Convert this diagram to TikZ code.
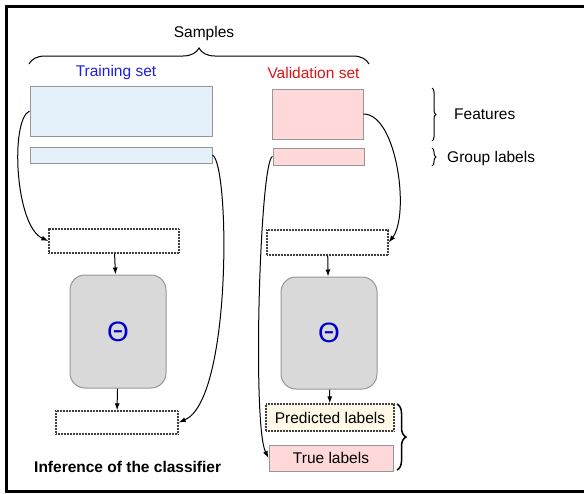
\documentclass[tikz,border=0pt]{standalone}
\usepackage{fontspec}
\setmainfont{Liberation Sans}
\usepackage{xcolor}
\usepackage{tikz}
\usetikzlibrary{positioning,arrows.meta,decorations.pathreplacing}
\definecolor{trainfill}{RGB}{228,241,250}
\definecolor{validfill}{RGB}{255,217,217}
\definecolor{predfill}{RGB}{255,248,230}
\definecolor{clffill}{RGB}{217,217,217}
\definecolor{edgegray}{RGB}{150,150,150}
\definecolor{trainblue}{RGB}{30,30,220}
\definecolor{validred}{RGB}{220,20,20}
\definecolor{thetablue}{RGB}{0,0,200}
\tikzset{
  txt/.style={font=\fontsize{15.5}{18}\selectfont,inner sep=0pt},
  setbox/.style={rectangle,draw=edgegray,line width=1pt,inner sep=0pt},
  dotbox/.style={rectangle,draw=black!75,line width=1.3pt,dash pattern=on 0.8pt off 0.7pt,inner sep=0pt,font=\fontsize{15.5}{18}\selectfont},
  clfbox/.style={rectangle,draw=edgegray,fill=clffill,line width=1pt,rounded corners=15pt,minimum width=96pt,minimum height=112pt,inner sep=0pt,text=thetablue,font=\fontsize{28}{30}\selectfont},
  arrow/.style={-{Latex[length=7pt,width=5pt]},line width=1pt},
  bracket/.style={decorate,line width=1pt}
}
\begin{document}
\begin{tikzpicture}[x=1pt,y=-1pt]
\useasboundingbox (0,0) rectangle (584,493);
\draw[line width=3pt] (584,6.5) -- (6.5,6.5) -- (6.5,491.5) -- (584,491.5);

\node[txt] (samples) at (204,33) {Samples};
\node[txt,text=trainblue] (trset) at (116,72) {Training set};
\node[txt,text=validred] (vset) at (313.5,73) {Validation set};

\node[setbox,fill=trainfill,minimum width=182pt,minimum height=50pt] (trfeat) at (121,111) {};
\node[setbox,fill=trainfill,minimum width=182pt,minimum height=16pt] (trgrp) at (121,155) {};
\node[setbox,fill=validfill,minimum width=91pt,minimum height=50pt] (vfeat) at (317.5,114) {};
\node[setbox,fill=validfill,minimum width=91pt,minimum height=17pt] (vgrp) at (318.5,156.5) {};

\node[txt,anchor=west] (features) at (454,114) {Features};
\node[txt,anchor=west] (grplabels) at (447,158) {Group labels};

\node[dotbox,minimum width=130pt,minimum height=24pt] (trin) at (114,241) {};
\node[dotbox,minimum width=121pt,minimum height=25pt] (vin) at (327.5,242.5) {};
\node[clfbox,minimum height=113pt] (trclf) at (118,331.5) {Θ};
\node[clfbox] (vclf) at (329,333) {Θ};
\node[dotbox,minimum width=122pt,minimum height=23pt] (trout) at (117,422.5) {};
\node[dotbox,fill=predfill,minimum width=128pt,minimum height=27pt] (vpred) at (330,417.5) {Predicted labels};
\node[setbox,fill=validfill,minimum width=124pt,minimum height=26pt,font=\fontsize{15.5}{18}\selectfont] (vtrue) at (331,458) {True labels};

\node[txt,anchor=west,font=\fontsize{15.5}{18}\selectfont\bfseries] (inference) at (34,467) {Inference of the classifier};

% braces
\draw[bracket,decoration={brace,amplitude=16pt}] (29,64) -- (369,64);
\draw[bracket,decoration={brace,amplitude=4pt}] (432,88) -- (432,141);
\draw[bracket,decoration={brace,amplitude=4pt}] (432,148) -- (432,166);
\draw[bracket,line width=1.5pt,decoration={brace,amplitude=9pt}] (397,404) -- (397,470);

\draw[arrow] (trfeat.west) .. controls (10,120) and (15,226) .. (trin.west);
\draw[arrow] (trgrp.east) .. controls (230,165) and (232,400) .. (trout.east);
\draw[arrow] (vfeat.east) .. controls (397,114) and (410,215) .. (vin.east);
\draw[arrow] (vgrp.west) .. controls (260,160) and (252,425) .. (vtrue.west);
\draw[arrow] (trin) -- (trclf);
\draw[arrow] (trclf) -- (trout);
\draw[arrow] (vin) -- (vclf);
\draw[arrow] (vclf) -- (vpred);
\end{tikzpicture}
\end{document}
